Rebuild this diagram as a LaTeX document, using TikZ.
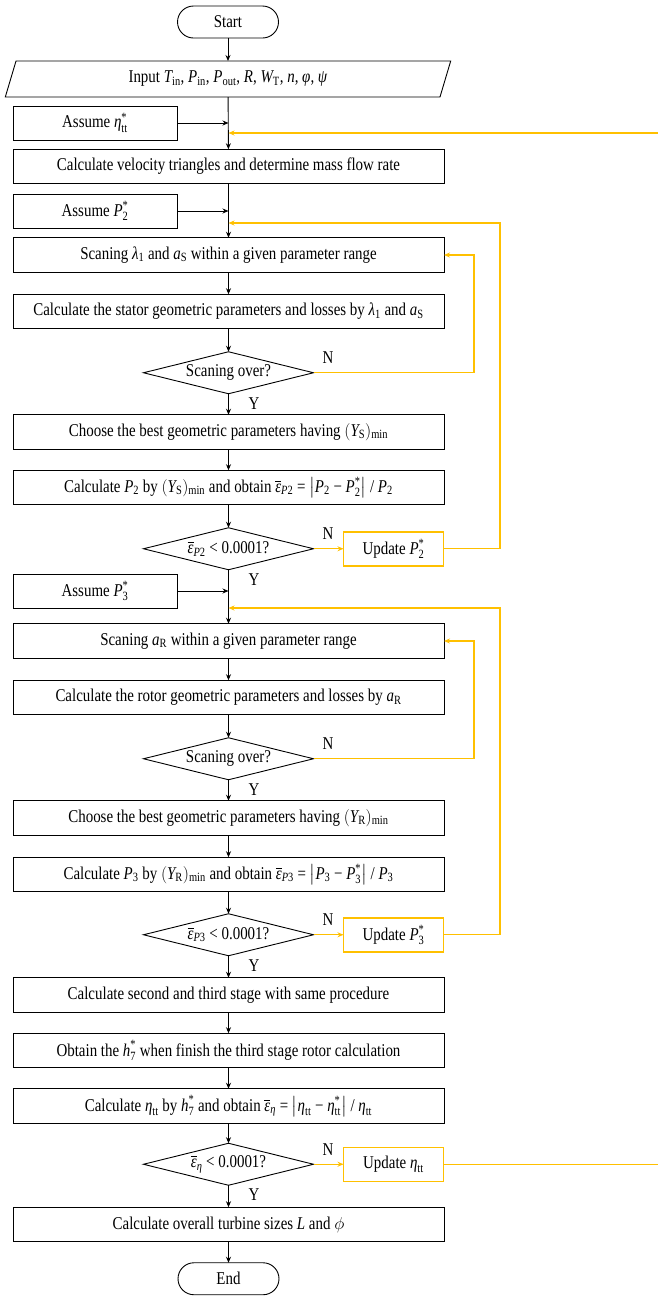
\documentclass[tikz,border=0pt]{standalone}
\usepackage{amsmath}
\usepackage{fontspec}
\setmainfont{Liberation Serif}[FakeStretch=0.83]
\usetikzlibrary{positioning,arrows.meta,shapes.geometric}
\definecolor{loopc}{RGB}{255,192,0}

% italic symbol with upright index
\newcommand{\symi}[1]{\text{\itshape #1}}
\newcommand{\symsub}[2]{\symi{#1}_{\text{#2}}}
\newcommand{\symst}[2]{\symi{#1}_{\text{#2}}^{\text{*}}}
\newcommand{\epsb}[1]{\overline{\symi{ε}}_{\text{#1}}}

\tikzstyle{term}=[draw, rounded corners=16pt, minimum width=101pt, minimum height=32pt, inner ysep=0pt]
\tikzstyle{io}=[draw, trapezium, trapezium left angle=71.6, trapezium right angle=108.4, trapezium stretches=true, minimum width=446pt, minimum height=36pt, inner ysep=0pt]
\tikzstyle{proc}=[draw, rectangle, minimum width=431pt, minimum height=34.5pt, inner xsep=2pt, inner ysep=0pt]
\tikzstyle{aside}=[draw, rectangle, minimum width=164pt, minimum height=34pt, inner ysep=0pt]
\tikzstyle{dec}=[draw, diamond, aspect=4, minimum width=170pt, minimum height=42pt, inner sep=0pt]
\tikzstyle{upd}=[rectangle, draw=loopc, line width=1.5pt, text=black, minimum width=100pt, minimum height=34pt, inner ysep=0pt]
\tikzstyle{fb}=[draw=loopc, line width=1.3pt, ->]
\tikzstyle{lbl}=[inner sep=0pt]

\begin{document}
\begin{tikzpicture}[x=1pt, y=1pt, line width=0.9pt, outer sep=0pt, >={Stealth[length=6pt,width=5pt]}, font=\fontsize{18pt}{20pt}\selectfont]
	\useasboundingbox (0,0) rectangle (658,-1299);
	\node[term] (start) at (228,-22) {Start};
	\node[io] (input) at (228,-79) {Input $\symsub{T}{in}$, $\symsub{P}{in}$, $\symsub{P}{out}$, \textit{R}, $\symsub{W}{T}$, \textit{n}, \textit{φ}, \textit{ψ}};
	\node[aside] (assEta) at (95,-123) {Assume $\symst{η}{tt}$};
	\node[proc] (velo) at (228.5,-166.5) {Calculate velocity triangles and determine mass flow rate};
	\node[aside] (assP2) at (95,-211) {Assume $\symst{P}{2}$};
	% stator loop
	\node[proc] (scanS) [below = 54pt of velo] {Scaning $\symsub{λ}{1}$ and $\symsub{a}{S}$ within a given parameter range};
	\node[proc] (stator) [below = 22pt of scanS] {Calculate the stator geometric parameters and losses by $\symsub{λ}{1}$ and $\symsub{a}{S}$};
	\node[dec] (chkS) [below = 23pt of stator] {Scaning over?};
	\node[proc] (chooseS) [below = 21pt of chkS] {Choose the best geometric parameters having $(\symsub{Y}{S})_{\text{min}}$};
	\node[proc] (calcP2) [below = 21pt of chooseS] {Calculate $\symsub{P}{2}$ by $(\symsub{Y}{S})_{\text{min}}$ and obtain $\epsb{\itshape P\upshape 2}$ = $\bigl|\symsub{P}{2}$ − $\symst{P}{2}\bigr|$ / $\symsub{P}{2}$};
	\node[dec] (chkP2) [below = 23pt of calcP2] {$\epsb{\itshape P\upshape 2}$ < 0.0001?};
	\node[upd] (updP2) [right = 30pt of chkP2] {Update $\symst{P}{2}$};
	\node[aside] (assP3) at (95,-591) {Assume $\symst{P}{3}$};
	% rotor loop
	\node[proc] (scanR) [below = 54pt of chkP2] {Scaning $\symsub{a}{R}$ within a given parameter range};
	\node[proc] (rotor) [below = 22pt of scanR] {Calculate the rotor geometric parameters and losses by $\symsub{a}{R}$};
	\node[dec] (chkR) [below = 23pt of rotor] {Scaning over?};
	\node[proc] (chooseR) [below = 21pt of chkR] {Choose the best geometric parameters having $(\symsub{Y}{R})_{\text{min}}$};
	\node[proc] (calcP3) [below = 22pt of chooseR] {Calculate $\symsub{P}{3}$ by $(\symsub{Y}{R})_{\text{min}}$ and obtain $\epsb{\itshape P\upshape 3}$ = $\bigl|\symsub{P}{3}$ − $\symst{P}{3}\bigr|$ / $\symsub{P}{3}$};
	\node[dec] (chkP3) [below = 22pt of calcP3] {$\epsb{\itshape P\upshape 3}$ < 0.0001?};
	\node[upd] (updP3) [right = 30pt of chkP3] {Update $\symst{P}{3}$};
	% remaining stages and efficiency check
	\node[proc] (stages) [below = 22pt of chkP3] {Calculate second and third stage with same procedure};
	\node[proc] (h7) [below = 21pt of stages] {Obtain the $\symst{h}{7}$ when finish the third stage rotor calculation};
	\node[proc] (calcEta) [below = 21pt of h7] {Calculate $\symsub{η}{tt}$ by $\symst{h}{7}$ and obtain $\epsb{\itshape η}$ = $\bigl|\symsub{η}{tt}$ − $\symst{η}{tt}\bigr|$ / $\symsub{η}{tt}$};
	\node[dec] (chkEta) [below = 20pt of calcEta] {$\epsb{\itshape η}$ < 0.0001?};
	\node[upd] (updEta) [right = 30pt of chkEta] {Update $\symsub{η}{tt}$};
	\node[proc] (sizes) [below = 22pt of chkEta] {Calculate overall turbine sizes \textit{L} and $\phi$};
	\node[term] (end) [below = 21pt of sizes] {End};

	% Y / N labels
	\node[lbl] (nS) [above right = 9pt and 9pt of chkS.east] {N};
	\node[lbl] (nP2) [above right = 9pt and 9pt of chkP2.east] {N};
	\node[lbl] (nR) [above right = 9pt and 9pt of chkR.east] {N};
	\node[lbl] (nP3) [above right = 9pt and 9pt of chkP3.east] {N};
	\node[lbl] (nEta) [above right = 9pt and 9pt of chkEta.east] {N};
	\node[lbl] (yS) [below right = 3.5pt and 20pt of chkS.south] {Y};
	\node[lbl] (yP2) [below right = 3.5pt and 20pt of chkP2.south] {Y};
	\node[lbl] (yR) [below right = 3.5pt and 20pt of chkR.south] {Y};
	\node[lbl] (yP3) [below right = 3.5pt and 20pt of chkP3.south] {Y};
	\node[lbl] (yEta) [below right = 3.5pt and 20pt of chkEta.south] {Y};

	% where the loops come back in
	\coordinate (etaIn) at (228.5,-133);
	\coordinate (etaTurn) at (672,-133);
	\coordinate (p2In) at (228.5,-223);
	\coordinate (p2Turn) at (500,-223);
	\coordinate (p3In) at (228.5,-608);
	\coordinate (p3Turn) at (500,-608);

	\draw (start) edge[->] (input);
	\draw (input) edge[->] (velo);
	\draw (assEta) edge[->] (assEta -| velo);
	\draw (velo) edge[->] (scanS);
	\draw (assP2) edge[->] (assP2 -| velo);
	\draw (scanS) edge[->] (stator);
	\draw (stator) edge[->] (chkS);
	\draw (chkS) edge[->] (chooseS);
	\draw (chooseS) edge[->] (calcP2);
	\draw (calcP2) edge[->] (chkP2);
	\draw (chkP2) edge[->] (scanR);
	\draw (assP3) edge[->] (assP3 -| velo);
	\draw (scanR) edge[->] (rotor);
	\draw (rotor) edge[->] (chkR);
	\draw (chkR) edge[->] (chooseR);
	\draw (chooseR) edge[->] (calcP3);
	\draw (calcP3) edge[->] (chkP3);
	\draw (chkP3) edge[->] (stages);
	\draw (stages) edge[->] (h7);
	\draw (h7) edge[->] (calcEta);
	\draw (calcEta) edge[->] (chkEta);
	\draw (chkEta) edge[->] (sizes);
	\draw (sizes) edge[->] (end);

	% feedback paths
	\draw[fb] (chkS.east) -| ([xshift=30pt]scanS.east) -- (scanS.east);
	\draw[fb] (chkR.east) -| ([xshift=30pt]scanR.east) -- (scanR.east);
	\draw[fb] (chkP2) -- (updP2);
	\draw[fb] (updP2) -| (p2Turn) -- (p2In);
	\draw[fb] (chkP3) -- (updP3);
	\draw[fb] (updP3) -| (p3Turn) -- (p3In);
	\draw[fb] (chkEta) -- (updEta);
	\draw[fb] (updEta) -| (etaTurn) -- (etaIn);
\end{tikzpicture}
\end{document}
